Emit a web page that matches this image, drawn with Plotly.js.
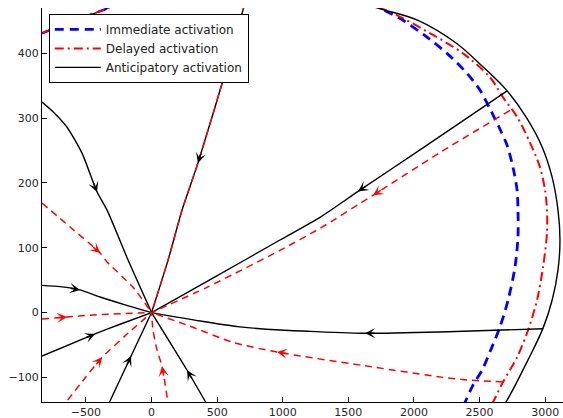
<!DOCTYPE html>
<html><head><meta charset="utf-8">
<script src="https://cdn.plot.ly/plotly-3.0.1.min.js"></script>
<style>html,body{margin:0;padding:0;background:#fff}#chart{width:563px;height:418px}</style>
</head><body><div id="chart"></div>
<script>
// ---- outer arcs (end points of each activation strategy) ----
const immArcX = [1681,1764,1917,2100,2252,2405,2504,2580,2649,2710,2755,2786,2793,2793,2770,2717,2656,2595,2519,2450,2390,2359];
const immArcY = [479,468,451,425,400,369,343,314,286,258,224,189,158,117,70,19,-22,-53,-89,-112,-138,-150];
const delArcX = [1589,1818,2123,2374,2580,2679,2786,2885,2961,2999,3014,3014,2984,2938,2870,2786,2679,2603,2566];
const delArcY = [479,464,431,400,363,332,302,262,224,189,158,123,70,19,-27,-69,-107,-138,-150];
const antArcX = [1513,1757,2031,2321,2527,2702,2854,2976,3053,3098,3113,3098,3053,2984,2862,2710,2657];
const antArcY = [482,468,451,416,379,344,302,256,209,158,112,66,19,-24,-76,-135,-150];
const topLeftArcX = [-835,-621,-354,-278];
const topLeftArcY = [431,448,468,474];

// ---- anticipatory (black) trajectories toward origin ----
const a1X = [2710,2046,1574,1284,979,484,0], a1Y = [342,251,187,147,112,55,0];
const a2X = [2984,2199,1627,1208,979,675,370,0], a2Y = [-25,-30,-32,-29,-27,-22,-13,0];
const a3X = [713,697,575,354,232,126,0], a3Y = [478,467,379,231,158,81,0];
const a4X = [-835,-751,-644,-530,-415,-339,-179,0], a4Y = [325,310,286,246,186,158,81,0];
const a5X = [-835,-697,-545,-393,-202,0], a5Y = [42,40,35,24,12,0];
const a6X = [-835,-431,-240,0], a6Y = [-67,-33,-18,0];
const a7X = [-348,-156,0], a7Y = [-150,-67,0];
const a8X = [446,271,0], a8Y = [-150,-89,0];
// ---- delayed (red dashed) trajectories toward origin ----
const d1X = [2732,2199,1688,1284,979,423,0], d1Y = [312,247,181,130,96,39,0];
const d2X = [2679,2405,2222,1688,956,621,293,0], d2Y = [-107,-104,-100,-84,-61,-46,-21,0];
const d3X = a3X, d3Y = a3Y;
const d4X = [-835,-621,-392,-339,-141,0], d4Y = [169,132,92,78,39,0];
const d5X = [-835,-644,-469,0], d5Y = [-10,-7,-4,0];
const d6X = [-697,-507,-377,-202,0], d6Y = [-150,-101,-69,-36,0];
const d7X = [133,80,42,11,0], d7Y = [-150,-83,-58,-27,0];
// index of the vertex carrying the direction arrow
const antArrowIdx = [2,2,3,4,2,1,1,1];
const delArrowIdx = [2,4,null,2,1,2,1];

const antX=[a1X,a2X,a3X,a4X,a5X,a6X,a7X,a8X], antY=[a1Y,a2Y,a3Y,a4Y,a5Y,a6Y,a7Y,a8Y];
const delX=[d1X,d2X,d3X,d4X,d5X,d6X,d7X], delY=[d1Y,d2Y,d3Y,d4Y,d5Y,d6Y,d7Y];

const BLACK='#000000', RED='#ff0000', BLUE='#0000ff';
const blackLine={color:BLACK,width:1.4};
const redDash={color:RED,width:1.5,dash:'7px,5px'};

const traces=[];
traces.push({x:immArcX,y:immArcY,mode:'lines',name:'Immediate activation',line:{color:BLUE,width:2.8,dash:'9px,6px',shape:'spline',smoothing:0.8}});
traces.push({x:delArcX,y:delArcY,mode:'lines',name:'Delayed activation',line:{color:RED,width:2,dash:'9px,4px,2px,4px',shape:'spline',smoothing:0.8}});
traces.push({x:antArcX,y:antArcY,mode:'lines',name:'Anticipatory activation',line:{color:BLACK,width:1.4,shape:'spline',smoothing:1}});
traces.push({x:topLeftArcX,y:topLeftArcY,mode:'lines',showlegend:false,line:{color:BLACK,width:1.4,shape:'spline'}});
traces.push({x:topLeftArcX,y:topLeftArcY,mode:'lines',showlegend:false,line:{color:BLUE,width:2.5,dash:'9px,6px',shape:'spline'}});
traces.push({x:topLeftArcX,y:topLeftArcY,mode:'lines',showlegend:false,line:{color:RED,width:1.8,dash:'9px,4px,2px,4px',shape:'spline'}});
for(let i=0;i<antX.length;i++) traces.push({x:antX[i],y:antY[i],mode:'lines',showlegend:false,line:Object.assign({shape:'spline',smoothing:0.6},blackLine)});
for(let i=0;i<delX.length;i++) traces.push({x:delX[i],y:delY[i],mode:'lines',showlegend:false,line:Object.assign({shape:'spline',smoothing:0.6},redDash)});

const ML=42, MR=0, MT=8, MB=16, FW=563, FH=418;
const xr=[-835,3136], yr=[-138,470];
const PW=FW-ML-MR, PH=FH-MT-MB;
function arrowAnn(xs,ys,i,color){
  const dx=(xs[i-1]-xs[i])*PW/(xr[1]-xr[0]);
  const dy=-(ys[i-1]-ys[i])*PH/(yr[1]-yr[0]);
  const s=11/Math.hypot(dx,dy);
  return {x:xs[i],y:ys[i],xref:'x',yref:'y',ax:dx*s,ay:dy*s,text:'',showarrow:true,
    arrowhead:3,arrowsize:1.15,arrowwidth:1.5,arrowcolor:color,standoff:0};
}
const annotations=[];
antArrowIdx.forEach((k,i)=>{ if(k!==null) annotations.push(arrowAnn(antX[i],antY[i],k,BLACK)); });
delArrowIdx.forEach((k,i)=>{ if(k!==null) annotations.push(arrowAnn(delX[i],delY[i],k,RED)); });

const axisFont={family:'DejaVu Sans, Arial, sans-serif',size:11,color:'#262626'};
const layout={
  width:FW,height:FH,margin:{l:ML,r:MR,t:MT,b:MB,pad:0},
  paper_bgcolor:'#fff',plot_bgcolor:'#fff',
  showlegend:true,
  legend:{x:0.013,y:0.985,xanchor:'left',yanchor:'top',bgcolor:'#fff',bordercolor:'#000',borderwidth:1,
    font:{family:'DejaVu Sans, Arial, sans-serif',size:12,color:'#222'},tracegroupgap:0,itemwidth:46},
  xaxis:{range:xr,tickvals:[-500,0,500,1000,1500,2000,2500,3000],ticks:'inside',ticklen:5,tickcolor:'#000',
    showline:true,linecolor:'#000',linewidth:1,showgrid:false,zeroline:false,tickfont:axisFont,mirror:false},
  yaxis:{range:yr,tickvals:[-100,0,100,200,300,400],ticks:'inside',ticklen:5,tickcolor:'#000',
    showline:true,linecolor:'#000',linewidth:1,showgrid:false,zeroline:false,tickfont:axisFont,mirror:false},
  annotations:annotations
};
Plotly.newPlot('chart',traces,layout,{displayModeBar:false,staticPlot:true});
</script></body></html>
